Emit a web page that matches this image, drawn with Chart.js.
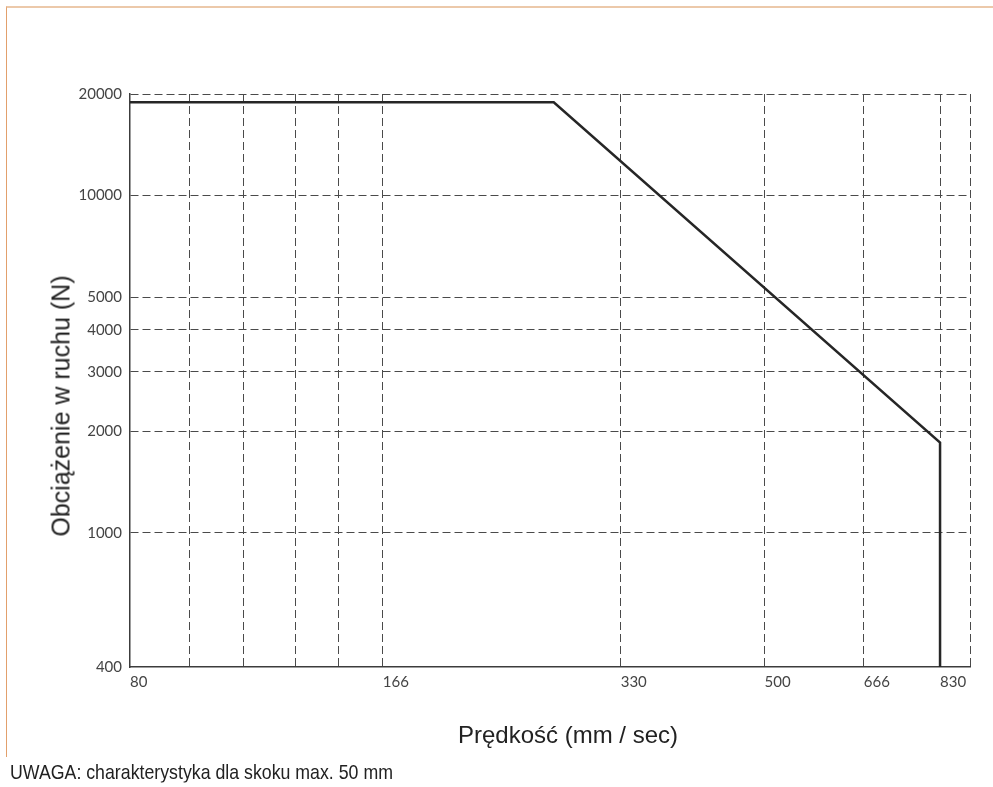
<!DOCTYPE html>
<html lang="pl">
<head>
<meta charset="utf-8">
<title>Obciążenie w ruchu – prędkość</title>
<script src="https://cdn.jsdelivr.net/npm/chart.js@4.4.1/dist/chart.umd.min.js"></script>
<style>
  html, body { margin: 0; padding: 0; background: #fff; }
  body { width: 993px; height: 787px; position: relative; overflow: hidden;
         font-family: "Liberation Sans", Arial, sans-serif; }
  #frame { position: absolute; left: 6px; top: 6px; width: 987px; height: 751px;
           border-top: 2px solid #ecc9aa; border-left: 1px solid #e2a06c; box-sizing: border-box; }
  #chart { position: absolute; left: 0; top: 0; }
  .axis-title { position: absolute; color: #222; white-space: nowrap; line-height: 1; }
  #xTitle { left: 568px; top: 735px; font-size: 24px; transform: translate(-50%, -50%); }
  #yTitle { left: 61px; top: 406px; font-size: 25px; transform: translate(-50%, -50%) rotate(-90deg); }
  #note { position: absolute; left: 10px; top: 771px; font-size: 21px; color: #222; white-space: nowrap;
          line-height: 1; transform-origin: 0 50%; transform: translateY(-50%) scaleX(0.845); }
</style>
</head>
<body>
<div id="frame"></div>
<canvas id="chart" width="993" height="787"></canvas>
<div id="xTitle" class="axis-title">Prędkość (mm / sec)</div>
<div id="yTitle" class="axis-title">Obciążenie w ruchu (N)</div>
<div id="note">UWAGA: charakterystyka dla skoku max. 50 mm</div>
<script>
// Speed axis (mm/sec): labelled ticks, extra unlabelled grid lines, axis range
const speedTicks = [80, 166, 330, 500, 666, 830];
const speedGridExtra = [95, 111, 129, 146];
const speedRange = [80, 905];

// Load axis (N): labelled ticks and range
const loadTicks = [400, 1000, 2000, 3000, 4000, 5000, 10000, 20000];
const loadRange = [400, 20000];

// Load limit curve: speed (mm/sec) and permissible load (N)
const curveSpeed = [80, 272, 830, 830];
const curveLoad = [18900, 18900, 1850, 400];

const curvePoints = curveSpeed.map((s, i) => ({ x: s, y: curveLoad[i] }));
const xGridValues = [...speedTicks, ...speedGridExtra, speedRange[1]].sort((a, b) => a - b);

const gridColor = '#4a4a4a';
const axisColor = '#3c3c3c';
const tickFont = { family: 'Lato, "Open Sans", sans-serif', size: 15 };

// dashed grid everywhere except where a solid axis line already runs
const gridColorFor = (min) => ctx => (ctx.tick && ctx.tick.value === min) ? 'rgba(0,0,0,0)' : gridColor;

new Chart(document.getElementById('chart'), {
  type: 'scatter',
  data: {
    datasets: [{
      data: curvePoints,
      showLine: true,
      borderColor: '#262626',
      borderWidth: 2.5,
      pointRadius: 0,
      pointHoverRadius: 0,
      tension: 0,
      borderJoinStyle: 'miter',
      fill: false
    }]
  },
  options: {
    responsive: false,
    devicePixelRatio: 1,
    animation: false,
    layout: { padding: { left: 0, top: 94, right: 23, bottom: 90 } },
    plugins: { legend: { display: false }, tooltip: { enabled: false } },
    scales: {
      x: {
        type: 'logarithmic',
        position: 'bottom',
        min: speedRange[0],
        max: speedRange[1],
        afterBuildTicks: axis => { axis.ticks = xGridValues.map(v => ({ value: v })); },
        afterFit: axis => { axis.height = 30; },
        ticks: {
          autoSkip: false,
          maxRotation: 0,
          align: 'start',
          padding: 6,
          color: '#444',
          font: tickFont,
          callback: v => speedTicks.includes(v) ? String(v) : ''
        },
        grid: { color: gridColorFor(speedRange[0]), lineWidth: 1, drawTicks: false },
        border: { display: true, color: axisColor, width: 1.5, dash: [8, 4] }
      },
      y: {
        type: 'logarithmic',
        position: 'left',
        min: loadRange[0],
        max: loadRange[1],
        afterBuildTicks: axis => { axis.ticks = loadTicks.map(v => ({ value: v })); },
        afterFit: axis => { axis.width = 130; },
        ticks: {
          autoSkip: false,
          padding: 8,
          color: '#444',
          font: tickFont,
          callback: v => String(v)
        },
        grid: { color: gridColorFor(loadRange[0]), lineWidth: 1, drawTicks: false },
        border: { display: true, color: axisColor, width: 1.5, dash: [8, 4] }
      }
    }
  }
});
</script>
</body>
</html>
